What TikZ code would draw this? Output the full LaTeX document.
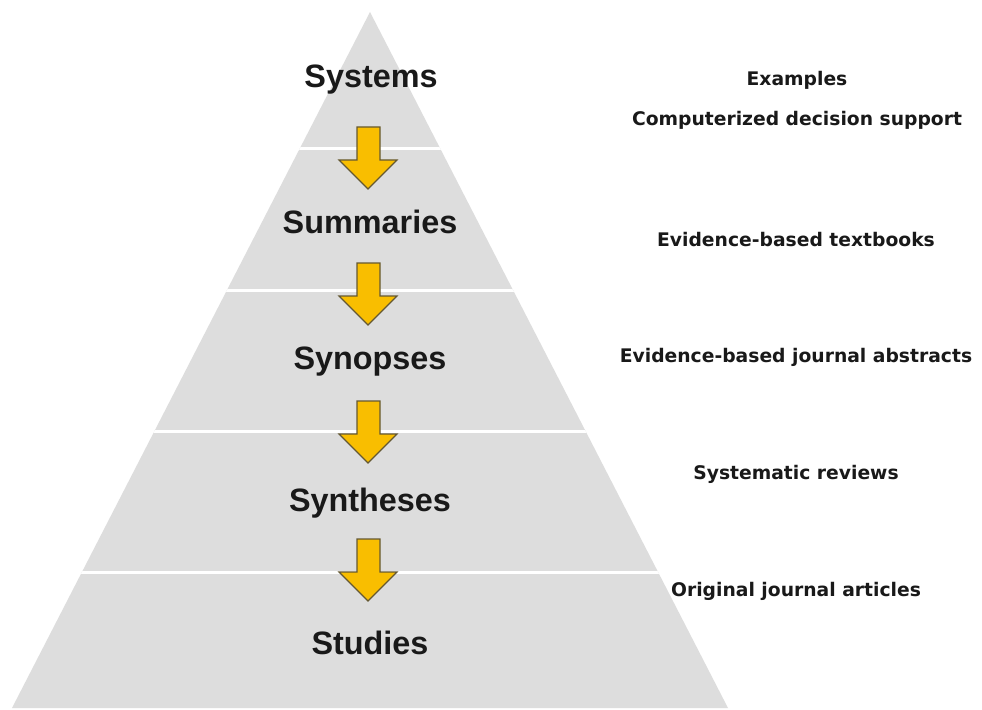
\documentclass[tikz,border=0pt]{standalone}
\usepackage{fontspec}
\setmainfont{Liberation Sans}
\newfontfamily\widefont{DejaVu Sans}
\usepackage{xcolor}
\usepackage{tikz}

\definecolor{pyrgray}{RGB}{221,221,221}
\definecolor{arrowyellow}{RGB}{249,190,0}
\definecolor{arrowedge}{RGB}{100,88,50}

\tikzset{
    level/.style={font=\fontsize{32.5}{38}\selectfont\bfseries, text=black!90},
    example/.style={font=\widefont\fontsize{18.8}{22}\selectfont\bfseries, text=black!90},
    blockarrow/.style={fill=arrowyellow, draw=arrowedge, line width=1.2bp, line join=miter}
}

\begin{document}
\begin{tikzpicture}[x=1bp,y=-1bp]
    \useasboundingbox (0,0) rectangle (982,710);
    \fill[white] (0,0) rectangle (982,710);

    % pyramid
    \coordinate (top) at (370,12);
    \coordinate (bl) at (12,708);
    \coordinate (br) at (728,708);
    \fill[pyrgray] (top) -- (bl) -- (br) -- cycle;
    \begin{scope}
        \clip (top) -- (bl) -- (br) -- cycle;
        \foreach \y in {149,290,431,572}
            \draw[white, line width=3bp] (0,\y) -- (982,\y);
    \end{scope}

    % arrows between levels
    \foreach \y in {127,263,401,539}
        \draw[blockarrow] (357,\y) -- (380,\y) -- (380,\y+33) -- (397,\y+33)
            -- (368,\y+62) -- (339,\y+33) -- (357,\y+33) -- cycle;

    \node[level] (sys) at (371,80) {Systems};
    \node[level] (sum) at (370,222) {Summaries};
    \node[level] (syn) at (370,362) {Synopses};
    \node[level] (sth) at (370,503) {Syntheses};
    \node[level] (stu) at (370,643) {Studies};

    \node[example] (ex)  at (797,80) {Examples};
    \node[example] (ex1) at (797,120) {Computerized decision support};
    \node[example] (ex2) at (796,240) {Evidence-based textbooks};
    \node[example] (ex3) at (796,357) {Evidence-based journal abstracts};
    \node[example] (ex4) at (796,474) {Systematic reviews};
    \node[example] (ex5) at (796,591) {Original journal articles};
\end{tikzpicture}
\end{document}
